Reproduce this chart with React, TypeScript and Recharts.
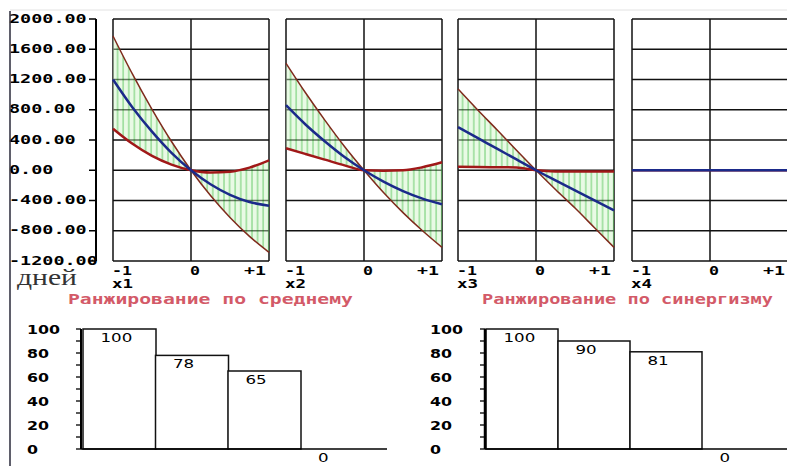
import React from "react";
import {
  ComposedChart,
  Line,
  Area,
  XAxis,
  YAxis,
  CartesianGrid,
  BarChart,
  Bar,
} from "recharts";

// factor levels on the small response panels
const xValues = [-1, -0.75, -0.5, -0.25, 0, 0.25, 0.5, 0.75, 1];

// x1
const upper1 = [1775, 1270, 805, 380, 0, -335, -625, -875, -1085];
const middle1 = [1200, 830, 510, 230, 0, -185, -325, -420, -470];
const lower1 = [550, 350, 190, 75, 0, -30, -20, 35, 130];
// x2
const upper2 = [1415, 1025, 660, 315, 0, -295, -560, -800, -1020];
const middle2 = [860, 605, 380, 175, 0, -150, -275, -375, -450];
const lower2 = [290, 215, 140, 65, 0, -5, 0, 40, 105];
// x3
const upper3 = [1075, 800, 535, 265, 0, -255, -500, -760, -1020];
const middle3 = [570, 428, 285, 143, 0, -133, -265, -398, -530];
const lower3 = [45, 42, 40, 38, 0, -15, -15, -15, -15];
// x4
const upper4 = [0, 0, 0, 0, 0, 0, 0, 0, 0];
const middle4 = [0, 0, 0, 0, 0, 0, 0, 0, 0];
const lower4 = [0, 0, 0, 0, 0, 0, 0, 0, 0];

const factorNames = ["x1", "x2", "x3", "x4"];
const yTicks = [-1200, -800, -400, 0, 400, 800, 1200, 1600, 2000];
const xTicks = [-1, 0, 1];
const unitLabel = "дней";

// ranking bars
const barCategories = ["1", "2", "3", "4"];
const meanRanks = [100, 78, 65, 0];
const synergyRanks = [100, 90, 81, 0];
const rankTicks = [0, 10, 20, 30, 40, 50, 60, 70, 80, 90, 100];
const rankTitles = ["Ранжирование по среднему", "Ранжирование по синергизму"];

const MONO = "'DejaVu Sans Mono', monospace";
const SANS = "'DejaVu Sans', sans-serif";

function MonoText({ x, y, text, per, anchor = "start", fill = "#000", size = 13 }: any) {
  return (
    <text
      x={x}
      y={y}
      textAnchor={anchor}
      fontFamily={MONO}
      fontWeight="bold"
      fontSize={size}
      fill={fill}
      textLength={text.length * per}
      lengthAdjust="spacingAndGlyphs"
    >
      {text}
    </text>
  );
}

function makeXTick(name: string) {
  return (props: any) => {
    const { x, y, payload } = props;
    const v = payload.value;
    if (v === -1) {
      return (
        <g>
          <MonoText x={x - 1} y={y + 14} text="-1" per={10} />
          <MonoText x={x - 1} y={y + 27} text={name} per={10.5} />
        </g>
      );
    }
    if (v === 0) return <MonoText x={x - 1} y={y + 14} text="0" per={10} />;
    return <MonoText x={x - 3} y={y + 14} text="+1" per={11} anchor="end" />;
  };
}

function LeftAxisTick(props: any) {
  const { y, payload } = props;
  return <MonoText x={9} y={y + 3.5} text={payload.value.toFixed(2)} per={11.1} />;
}

function Panel({ left, idx, upper, middle, lower }: any) {
  const data = xValues.map((x, i) => ({ x, hi: upper[i], mid: middle[i], lo: lower[i] }));
  const pid = `hatch${idx}`;
  return (
    <div style={{ position: "absolute", left: left - 2, top: 0 }}>
      <ComposedChart
        width={160}
        height={300}
        data={data}
        margin={{ top: 19, right: 2, bottom: 0, left: 2 }}
      >
        <defs>
          <pattern id={pid} patternUnits="userSpaceOnUse" width={5.6} height={8}>
            <rect width={5.6} height={8} fill="#cdf2c4" fillOpacity={0.75} />
            <line x1={1} y1={0} x2={1} y2={8} stroke="#4fc44f" strokeWidth={1.5} />
          </pattern>
        </defs>
        <CartesianGrid stroke="#111" strokeWidth={1.5} />
        <XAxis
          dataKey="x"
          type="number"
          domain={[-1, 1]}
          ticks={xTicks}
          interval={0}
          height={39}
          axisLine={false}
          tickLine={false}
          tickSize={0}
          tickMargin={0}
          tick={makeXTick(factorNames[idx])}
        />
        <YAxis hide domain={[-1200, 2000]} ticks={yTicks} interval={0} />
        <Area
          dataKey={(d: any) => [d.lo, d.hi]}
          type="monotone"
          stroke="none"
          fill={`url(#${pid})`}
          isAnimationActive={false}
        />
        <Line dataKey="lo" type="monotone" stroke="#a01818" strokeWidth={2.5} dot={false} isAnimationActive={false} />
        <Line dataKey="hi" type="monotone" stroke="#7f2a1c" strokeWidth={1.5} dot={false} isAnimationActive={false} />
        <Line dataKey="mid" type="monotone" stroke="#1b2a8a" strokeWidth={2.5} dot={false} isAnimationActive={false} />
      </ComposedChart>
    </div>
  );
}

function makeRankTick(lx: number) {
  return (props: any) => {
    const { y, payload } = props;
    if (payload.value % 20 !== 0) return <g />;
    const t = String(payload.value);
    return (
      <text
        x={lx}
        y={y + 4.5}
        fontFamily={SANS}
        fontWeight="bold"
        fontSize={13}
        fill="#000"
        textLength={t.length * 11}
        lengthAdjust="spacingAndGlyphs"
      >
        {t}
      </text>
    );
  };
}

// bar outline plus its value written under the top edge
function RankBar(props: any) {
  const { x, y, width, height, payload } = props;
  const t = String(payload.value);
  return (
    <g>
      {height > 0 && (
        <rect x={x} y={y} width={width} height={height} fill="#fff" stroke="#111" strokeWidth={1.5} />
      )}
      <text
        x={x + 17.5}
        y={y + 13}
        fontFamily={SANS}
        fontSize={13}
        fill="#000"
        textLength={t.length * 10.6}
        lengthAdjust="spacingAndGlyphs"
      >
        {t}
      </text>
    </g>
  );
}

function RankChart({ left, values, yAxisWidth, labelX, axisStroke, padLeft, padRight }: any) {
  const data = barCategories.map((c, i) => ({ cat: c, value: values[i] }));
  return (
    <div style={{ position: "absolute", left, top: 310 }}>
      <BarChart
        width={387}
        height={156}
        data={data}
        margin={{ top: 19, right: 0, bottom: 0, left: 0 }}
        barCategoryGap={0}
      >
        <XAxis
          dataKey="cat"
          height={17}
          tick={false}
          tickLine={false}
          axisLine={{ stroke: "#000", strokeWidth: 1.5 }}
          padding={{ left: padLeft, right: padRight }}
        />
        <YAxis
          width={yAxisWidth}
          domain={[0, 100]}
          ticks={rankTicks}
          interval={0}
          tickSize={5}
          tickLine={{ stroke: "#000", strokeWidth: 1.3 }}
          axisLine={{ stroke: "#000", strokeWidth: axisStroke }}
          tick={makeRankTick(labelX)}
        />
        <Bar dataKey="value" shape={RankBar} isAnimationActive={false} />
      </BarChart>
    </div>
  );
}

export default function App() {
  const axisData = xValues.map((x, i) => ({ x, mid: middle1[i] }));
  return (
    <div
      style={{
        position: "absolute",
        left: 0,
        top: 0,
        width: 787,
        height: 466,
        overflow: "hidden",
        background: "#fff",
      }}
    >
      <div style={{ position: "absolute", left: 0, top: 0 }}>
        <ComposedChart
          width={100}
          height={270}
          data={axisData}
          margin={{ top: 19, right: 4, bottom: 9, left: 0 }}
        >
          <XAxis dataKey="x" type="number" domain={[-1, 1]} hide />
          <YAxis
            width={96}
            domain={[-1200, 2000]}
            allowDataOverflow
            ticks={yTicks}
            interval={0}
            tickSize={7}
            tickLine={{ stroke: "#000", strokeWidth: 1.5 }}
            axisLine={{ stroke: "#000", strokeWidth: 2 }}
            tick={LeftAxisTick}
          />
        </ComposedChart>
      </div>

      <Panel left={113} idx={0} upper={upper1} middle={middle1} lower={lower1} />
      <Panel left={286} idx={1} upper={upper2} middle={middle2} lower={lower2} />
      <Panel left={458} idx={2} upper={upper3} middle={middle3} lower={lower3} />
      <Panel left={632} idx={3} upper={upper4} middle={middle4} lower={lower4} />

      <RankChart left={0} values={meanRanks} yAxisWidth={81} labelX={27} axisStroke={2} padLeft={2} padRight={14} />
      <RankChart left={400} values={synergyRanks} yAxisWidth={85} labelX={30} axisStroke={2.5} padLeft={1} padRight={13} />

      <svg
        width={787}
        height={466}
        style={{ position: "absolute", left: 0, top: 0, pointerEvents: "none" }}
      >
        <line x1={10} y1={10} x2={787} y2={10} stroke="#e2e2e2" strokeWidth={1} />
        <line x1={10} y1={11} x2={10} y2={466} stroke="#2a2a3a" strokeWidth={1.5} />
        <text
          x={17}
          y={285}
          fontFamily="'Liberation Serif', serif"
          fontSize={24}
          fill="#333"
          textLength={60}
          lengthAdjust="spacingAndGlyphs"
        >
          {unitLabel}
        </text>
        <MonoText x={68} y={304} text={rankTitles[0]} per={285 / 24} fill="#d35a68" size={14} />
        <MonoText x={482} y={304} text={rankTitles[1]} per={291 / 26} fill="#d35a68" size={14} />
      </svg>
    </div>
  );
}
